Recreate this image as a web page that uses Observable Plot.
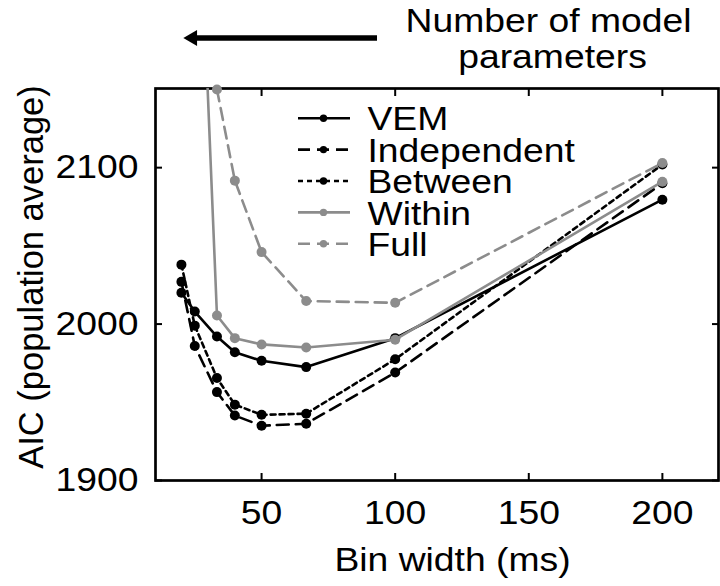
<!DOCTYPE html>
<html><head><meta charset="utf-8">
<script src="https://cdn.jsdelivr.net/npm/d3@7"></script>
<script src="https://cdn.jsdelivr.net/npm/@observablehq/plot@0.6"></script>
<style>body{margin:0;background:#fff}</style>
</head><body><div id="chart"></div>
<script>
// ---- data ----
const binWidths = [20, 25, 33.3, 40, 50, 66.7, 100, 200];
const vem         = [2020, 2008, 1992, 1982, 1976.5, 1972.5, 1991, 2079.5];
const independent = [2027, 1986, 1956.5, 1941.5, 1935, 1936.3, 1969, 2090];
const between     = [2038, 1999, 1965.5, 1948.5, 1942, 1942.7, 1977.5, 2102];
const within      = [null, 2350, 2005.5, 1991, 1987, 1985, 1990, 2091];
const full        = [null, null, 2150, 2091.7, 2046, 2014.7, 2013.6, 2103];
const seriesNames = ["VEM", "Independent", "Between", "Within", "Full"];
const xTicks = [50, 100, 150, 200];
const yTicks = [1900, 2000, 2100];
const xLabel = "Bin width (ms)";
const yLabel = "AIC (population average)";
const noteLines = ["Number of model", "parameters"];

// ---- layout / style ----
const W = 720, H = 586;
const M = {top: 88, right: 2, bottom: 106, left: 155};
const xDomain = [10.3, 221], yDomain = [1900, 2150.6];
const px2x = d3.scaleLinear([M.left, W - M.right], xDomain);
const px2y = d3.scaleLinear([H - M.bottom, M.top], yDomain);
const black = "#000", gray = "#8c8c8c";
const seriesValues = [vem, independent, between, within, full];
const seriesColors = [black, black, black, gray, gray];
const seriesDash = [undefined, "12,7", "5,4", undefined, "12,7"];
const FS = 33;
const frameCx = (M.left + W - M.right) / 2;
const frameCy = (M.top + H - M.bottom) / 2;

const marks = [Plot.frame({stroke: "#000", strokeWidth: 2.7})];

seriesNames.forEach((name, i) => {
  const rows = binWidths.map((b, j) => ({bin: b, aic: seriesValues[i][j]})).filter(d => d.aic != null);
  const dash = seriesDash[i] ? {strokeDasharray: seriesDash[i]} : {};
  marks.push(Plot.line(rows, {x: "bin", y: "aic", stroke: seriesColors[i], strokeWidth: 2.6, clip: true, ...dash}));
  marks.push(Plot.dot(rows.filter(d => d.aic <= yDomain[1] + 1), {x: "bin", y: "aic", fill: seriesColors[i], r: 5}));
});

// legend
seriesNames.forEach((name, i) => {
  const yv = px2y(117.7 + i * 31.4);
  const dash = seriesDash[i] ? {strokeDasharray: seriesDash[i]} : {};
  marks.push(Plot.ruleY([yv], {x1: px2x(298), x2: px2x(350), stroke: seriesColors[i], strokeWidth: 2.6, ...dash}));
  marks.push(Plot.dot([yv], {x: px2x(323), y: d => d, r: 3.7, fill: seriesColors[i]}));
  marks.push(Plot.text([name], {x: px2x(367), y: yv, text: d => d, textAnchor: "start", fontSize: FS, dy: 1.7, fill: "#000"}));
});

// axes with inward ticks on all four sides
marks.push(
  Plot.axisX({ticks: xTicks, tickSize: -7, tickPadding: 27, strokeWidth: 2, label: null, tickFormat: d => String(d)}),
  Plot.axisX({anchor: "top", ticks: xTicks, tickSize: -7, strokeWidth: 2, label: null, tickFormat: () => ""}),
  Plot.axisY({ticks: yTicks, tickSize: -7, tickPadding: 24, strokeWidth: 2, label: null, tickFormat: d => String(d)}),
  Plot.axisY({anchor: "right", ticks: yTicks, tickSize: -7, strokeWidth: 2, label: null, tickFormat: () => ""})
);

// axis titles
marks.push(
  Plot.text([xLabel], {frameAnchor: "bottom", lineAnchor: "bottom", dx: 452 - frameCx, dy: 570 - (H - M.bottom), fontSize: FS, fill: "#000"}),
  Plot.text([yLabel], {frameAnchor: "left", textAnchor: "middle", lineAnchor: "bottom", rotate: -90, dx: 42 - M.left, dy: 276.5 - frameCy, fontSize: 34.5, fill: "#000"})
);

// annotation: arrow + note
const arrowY = px2y(37.5);
marks.push(
  Plot.ruleY([arrowY], {x1: px2x(190), x2: px2x(377), strokeWidth: 5.5, stroke: "#000"}),
  Plot.dot([arrowY], {x: px2x(192), y: d => d, symbol: "triangle", rotate: -90, r: 5.9, fill: "#000"}),
  Plot.text([noteLines[0]], {frameAnchor: "top", lineAnchor: "bottom", dx: 548 - frameCx, dy: 31 - M.top, fontSize: FS, fill: "#000"}),
  Plot.text([noteLines[1]], {frameAnchor: "top", lineAnchor: "bottom", dx: 552 - frameCx, dy: 67 - M.top, fontSize: FS, fill: "#000"})
);

const chart = Plot.plot({
  width: W, height: H,
  marginTop: M.top, marginRight: M.right, marginBottom: M.bottom, marginLeft: M.left,
  x: {domain: xDomain},
  y: {domain: yDomain},
  style: {fontFamily: "'Liberation Sans', Arial, sans-serif", fontSize: FS + "px", background: "#fff", color: "#000", overflow: "visible"},
  marks
});
document.getElementById("chart").appendChild(chart);

// widen horizontal text slightly to match the figure's aspect
const STRETCH = 1.13;
chart.querySelectorAll("text").forEach(t => {
  if (t.textContent === yLabel) return;
  const len = t.getComputedTextLength();
  if (len > 0) {
    t.setAttribute("textLength", len * STRETCH);
    t.setAttribute("lengthAdjust", "spacingAndGlyphs");
  }
});
</script>
</body></html>
